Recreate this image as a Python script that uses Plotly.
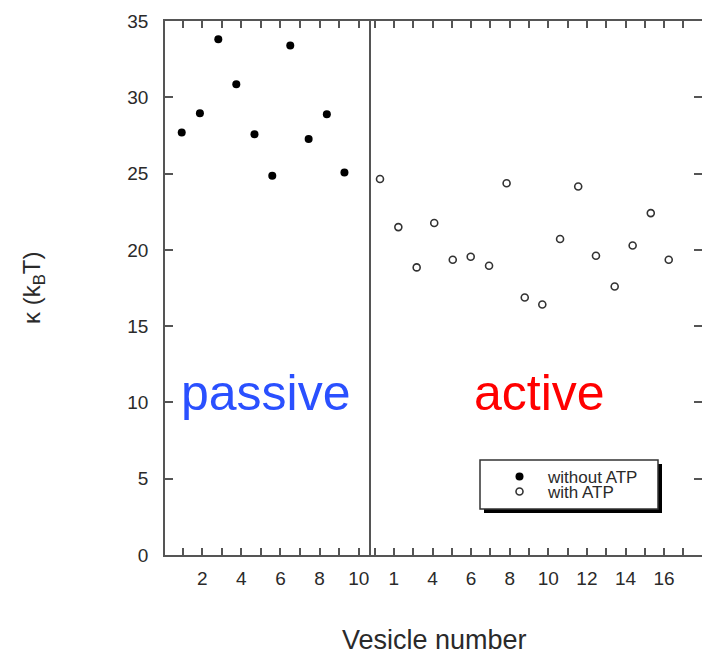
import plotly.graph_objects as go

# Bending rigidity per vesicle (units of k_B T)
passive_pos = [0.95, 1.88, 2.82, 3.74, 4.67, 5.58, 6.50, 7.44, 8.37, 9.27]
passive_kappa = [27.69, 28.96, 33.80, 30.86, 27.58, 24.85, 33.39, 27.26, 28.89, 25.07]

active_pos = [1.28, 2.23, 3.18, 4.09, 5.05, 5.98, 6.93, 7.84, 8.78, 9.69,
              10.61, 11.55, 12.47, 13.44, 14.37, 15.31, 16.24]
active_kappa = [24.64, 21.49, 18.85, 21.76, 19.35, 19.55, 18.96, 24.37, 16.88, 16.42,
                20.71, 24.15, 19.61, 17.60, 20.29, 22.41, 19.35]

passive_ticks = list(range(1, 11))
passive_ticktext = ["", "2", "", "4", "", "6", "", "8", "", "10"]
active_ticks = list(range(1, 18))
active_ticktext = ["", "1", "", "4", "", "6", "", "8", "", "10", "", "12", "", "14", "", "16", ""]
y_ticks = [0, 5, 10, 15, 20, 25, 30, 35]

W, H = 702, 654
ML, MR, MT, MB = 165, 0, 21, 99
PW, PH = W - ML - MR, H - MT - MB


def px(x):
    return (x - ML) / PW


def py(y):
    return (H - MB - y) / PH


split = px(368.5)
AX = "#555555"
FONT = "Liberation Sans, Arial, sans-serif"
TICKFONT = dict(family=FONT, size=19, color="#2a2a2a")

fig = go.Figure()
fig.add_trace(go.Scatter(
    x=passive_pos, y=passive_kappa, mode="markers", name="without ATP",
    xaxis="x", yaxis="y", legend="legend",
    marker=dict(symbol="circle", size=8, color="black"),
))
fig.add_trace(go.Scatter(
    x=active_pos, y=active_kappa, mode="markers", name="with ATP",
    xaxis="x2", yaxis="y2", legend="legend2",
    marker=dict(symbol="circle-open", size=7, color="#333333", line=dict(width=1.6)),
))

xcommon = dict(showline=True, linecolor=AX, linewidth=1.5, mirror="ticks",
               ticks="inside", ticklen=7, tickcolor=AX, tickwidth=1.5,
               showgrid=False, zeroline=False, tickfont=TICKFONT, ticklabelstandoff=5)

legend_font = dict(family=FONT, size=17, color="#2a2a2a")

fig.update_layout(
    width=W, height=H,
    margin=dict(l=ML, r=MR, t=MT, b=MB),
    paper_bgcolor="white", plot_bgcolor="white",
    xaxis=dict(domain=[0, split], range=[0.095, 10.5], tickmode="array",
               tickvals=passive_ticks, ticktext=passive_ticktext, **xcommon),
    xaxis2=dict(domain=[split, 1], range=[0.684, 17.964], tickmode="array",
                tickvals=active_ticks, ticktext=active_ticktext, anchor="y2", **xcommon),
    yaxis=dict(range=[0, 35], tickvals=y_ticks, showline=True, linecolor=AX, linewidth=1.5,
               mirror=True, ticks="inside", ticklen=8, tickcolor=AX, tickwidth=1.5,
               showgrid=False, zeroline=False, tickfont=TICKFONT, ticklabelstandoff=11),
    yaxis2=dict(range=[0, 35], tickvals=y_ticks, anchor="x2", side="right",
                showline=False, ticks="inside", ticklen=8, tickcolor=AX, tickwidth=1.5,
                showticklabels=False, showgrid=False, zeroline=False),
    legend=dict(x=px(491), y=py(477), xanchor="left", yanchor="middle", itemwidth=47,
                bgcolor="rgba(0,0,0,0)", borderwidth=0, font=legend_font),
    legend2=dict(x=px(491), y=py(492), xanchor="left", yanchor="middle", itemwidth=47,
                 bgcolor="rgba(0,0,0,0)", borderwidth=0, font=legend_font),
    showlegend=True,
)

# Legend frame with a drop shadow
fig.add_shape(type="rect", xref="paper", yref="paper", layer="below",
              x0=px(484), x1=px(662), y0=py(513), y1=py(464),
              fillcolor="black", line=dict(width=0))
fig.add_shape(type="rect", xref="paper", yref="paper", layer="below",
              x0=px(480), x1=px(658), y0=py(509), y1=py(460),
              fillcolor="white", line=dict(color="#333333", width=1.5))

fig.add_annotation(text="passive", xref="paper", yref="paper", x=px(265.5), y=py(393),
                   showarrow=False, xanchor="center", yanchor="middle",
                   font=dict(family=FONT, size=50, color="#2a50ff"))
fig.add_annotation(text="active", xref="paper", yref="paper", x=px(539), y=py(393),
                   showarrow=False, xanchor="center", yanchor="middle",
                   font=dict(family=FONT, size=50, color="#ff0000"))
fig.add_annotation(text="κ (k<sub>B</sub>T)", xref="paper", yref="paper", x=px(33), y=py(288),
                   showarrow=False, textangle=-90, xanchor="center", yanchor="middle",
                   font=dict(family=FONT, size=24, color="#2a2a2a"))
fig.add_annotation(text="Vesicle number", xref="paper", yref="paper", x=px(434), y=py(640),
                   showarrow=False, xanchor="center", yanchor="middle",
                   font=dict(family=FONT, size=27, color="#2a2a2a"))

fig.write_html("out.html")
